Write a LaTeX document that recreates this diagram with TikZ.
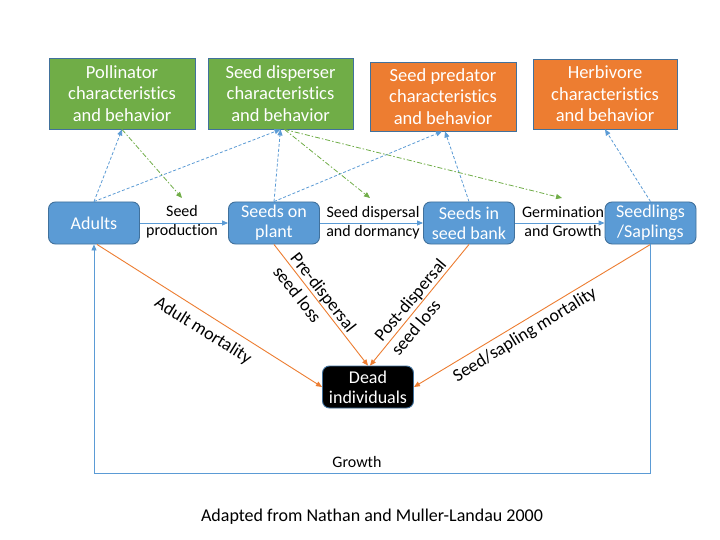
\documentclass[tikz,border=0pt]{standalone}
\usepackage{fontspec}
\setmainfont[Ligatures={NoCommon}]{Carlito}
\usetikzlibrary{arrows.meta}
\definecolor{pgreen}{HTML}{70AD47}
\definecolor{porange}{HTML}{ED7D31}
\definecolor{pblue}{HTML}{5B9BD5}
\definecolor{pborder}{HTML}{41719C}
\tikzset{
 topbox/.style={draw=pborder, line width=0.9pt, text=white, align=center, inner sep=0pt, minimum width=146pt, minimum height=71pt, font=\fontsize{18.5}{21.5}\selectfont},
 greenbox/.style={topbox, fill=pgreen},
 orangebox/.style={topbox, fill=porange},
 stage/.style={draw=pborder, line width=0.9pt, fill=pblue, rounded corners=7pt, text=white, align=center, inner sep=0pt, minimum width=91pt, minimum height=42pt, font=\fontsize{18}{20}\selectfont},
 deadbox/.style={stage, fill=black},
 flowlab/.style={align=center, font=\fontsize{16}{19}\selectfont, inner sep=0pt},
 caplab/.style={font=\fontsize{18}{21}\selectfont, inner sep=0pt},
 rotlab/.style={align=left, font=\fontsize{18}{22}\selectfont, inner sep=0pt},
 tip/.style={-{Triangle[length=6pt,width=5pt]}},
 flow/.style={tip, draw=pblue, line width=0.9pt},
 infl/.style={tip, draw=pblue, line width=0.8pt, dash pattern=on 3pt off 2pt},
 effect/.style={tip, draw=pgreen, line width=0.8pt, dash pattern=on 5pt off 2pt on 1.5pt off 2pt},
 death/.style={tip, draw=porange, line width=0.9pt},
}
\begin{document}
\begin{tikzpicture}[x=1pt,y=-1pt]
\useasboundingbox[fill=white] (0,0) rectangle (720,540);
% top boxes
\node[greenbox] (poll) at (122,93.5) {Pollinator\\characteristics\\and behavior};
\node[greenbox, minimum width=145pt] (disp) at (280.5,93.5) {Seed disperser\\characteristics\\and behavior};
\node[orangebox, minimum height=69pt] (pred) at (443,96.5) {Seed predator\\characteristics\\and behavior};
\node[orangebox, minimum width=144pt, minimum height=70pt] (herb) at (605,94) {Herbivore\\characteristics\\and behavior};
% stages
\node[stage] (ad) at (94,223) {Adults};
\node[stage] (sop) at (274,223) {Seeds on\\plant};
\node[stage] (sb) at (469,223) {Seeds in\\seed bank};
\node[stage] (sdl) at (650.5,223) {Seedlings\\/Saplings};
\node[deadbox] (dead) at (368,387) {Dead\\individuals};
% flow labels
\node[flowlab] (l1) at (182,222) {Seed\\production};
\node[flowlab] (l2) at (373,223) {Seed dispersal\\and dormancy};
\node[flowlab] (l3) at (563,222) {Germination\\and Growth};
% flows
\draw[flow] (ad.east) -- (sop.west);
\draw[flow] (sop.east) -- (sb.west);
\draw[flow] (sb.east) -- (sdl.west);
% influences (blue dashed)
\draw[infl] (ad.north) -- (poll.south);
\draw[infl] (ad.north) -- (disp.south);
\draw[infl] (sop.north) -- (disp.south);
\draw[infl] (sop.north) -- ([xshift=-1pt]pred.south);
\draw[infl] (sb.north) -- ([xshift=2pt]pred.south);
\draw[infl] (sdl.north) -- (herb.south);
% effects (green dash-dot)
\coordinate (g1) at (182,198);
\coordinate (g2) at (370,198);
\coordinate (g3) at (562,198);
\draw[effect] (poll.south) -- (g1);
\draw[effect] ([xshift=4pt]disp.south) -- (g2);
\draw[effect] ([xshift=4pt]disp.south) -- (g3);
% deaths
\draw[death] ([xshift=3pt]ad.south) -- (dead.west);
\draw[death] (sop.south) -- (dead.north);
\draw[death] (sb.south) -- ([xshift=2pt]dead.north);
\draw[death] (sdl.south) -- (dead.east);
\node[rotlab, rotate=-32] (m1) at (203,331) {Adult mortality};
\node[rotlab, rotate=-52] (m2) at (315,299) {Pre-dispersal\\seed loss};
\node[rotlab, rotate=50] (m3) at (418.5,307) {Post-dispersal\\seed loss};
\node[rotlab, rotate=31.5] (m4) at (525,335) {Seed/sapling mortality};
% growth
\coordinate (gb) at (0,473);
\draw[flow] (sdl.south) -- (sdl.south |- gb) -| (ad.south);
\node[flowlab] (gl) at (357,462) {Growth};
% caption
\node[caplab] (cap) at (372,517) {Adapted from Nathan and Muller-Landau 2000};
\end{tikzpicture}
\end{document}
